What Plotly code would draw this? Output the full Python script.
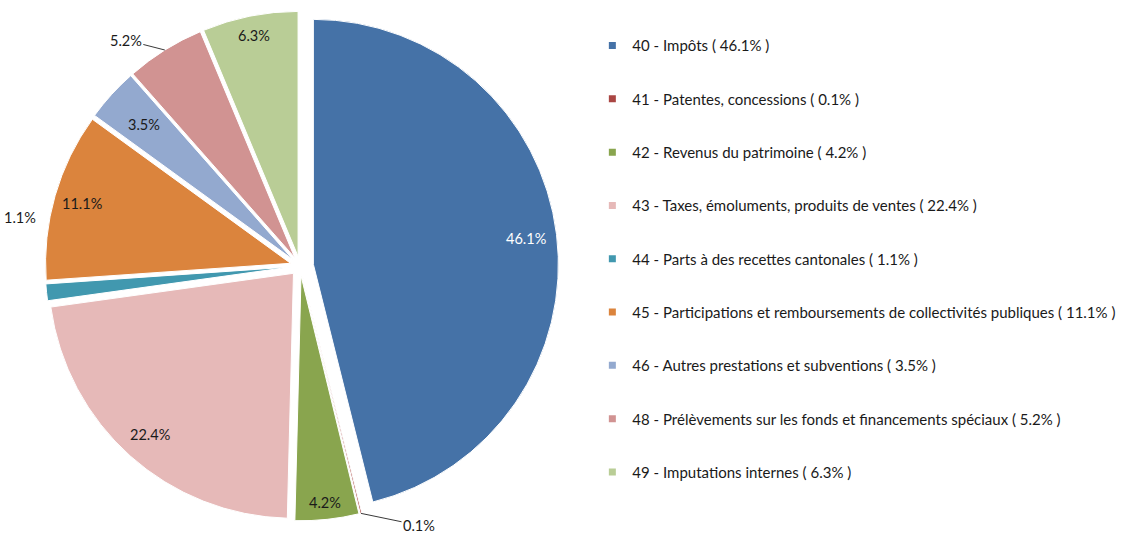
import math
import plotly.graph_objects as go

codes = ["40", "41", "42", "43", "44", "45", "46", "48", "49"]
names = ["Impôts", "Patentes, concessions", "Revenus du patrimoine",
         "Taxes, émoluments, produits de ventes", "Parts à des recettes cantonales",
         "Participations et remboursements de collectivités publiques",
         "Autres prestations et subventions",
         "Prélèvements sur les fonds et financements spéciaux",
         "Imputations internes"]
values = [46.1, 0.1, 4.2, 22.4, 1.1, 11.1, 3.5, 5.2, 6.3]
colors = ["#4572A7", "#AA4643", "#89A54E", "#E6B9B8", "#4198AF",
          "#DB843D", "#93A9CF", "#D19392", "#B9CD96"]

# styling / layout (not data)
W, H = 1127, 533
CX, CY, R = 300.0, 266.0, 245.0          # pie centre & radius in px
pulls = [0.055, 0.04, 0.04, 0.04, 0.04, 0.04, 0.04, 0.04, 0.04]
label_style = ["in", "leader", "in", "in", "side", "in", "in", "leader", "in"]
label_radius = [0.875, None, 0.93, 0.88, None, 0.885, 0.82, None, 0.92]
label_offset = [None, (58, 12), None, None, (-27, -75), None, None, (-39, -10), None]
textcol = ["white"] + ["#1a1a1a"] * 8
FONT = "Lato"

maxpull = max(pulls)
half = R * (1 + maxpull)
dom_x = [(CX - half) / W, (CX + half) / W]
dom_y = [1 - (CY + half) / H, 1 - (CY - half) / H]

fig = go.Figure()
fig.add_trace(go.Pie(
    labels=[f"{c} - {n}" for c, n in zip(codes, names)],
    values=values,
    sort=False,
    direction="clockwise",
    rotation=0,
    pull=pulls,
    marker=dict(colors=colors, line=dict(color="white", width=1)),
    textinfo="none",
    showlegend=False,
    automargin=False,
    hoverinfo="label+percent",
    domain=dict(x=dom_x, y=dom_y),
))

# data labels placed from the slice angles
total = sum(values)
cum = 0.0
annotations = []
for i, v in enumerate(values):
    mid = (cum + v / 2) / total * 2 * math.pi
    cum += v
    sx, sy = math.sin(mid), -math.cos(mid)
    pcx = CX + pulls[i] * R * sx
    pcy = CY + pulls[i] * R * sy
    txt = f"{v / total * 100:.1f}%"
    font = dict(family=FONT, size=14.5, color=textcol[i])
    if label_style[i] == "in":
        lr = label_radius[i] * R
        px, py = pcx + lr * sx, pcy + lr * sy
        annotations.append(dict(x=px / W, y=1 - py / H, xref="paper", yref="paper",
                                xanchor="center", yanchor="middle",
                                text=txt, showarrow=False, font=font))
    else:
        ex, ey = pcx + R * sx, pcy + R * sy
        ox, oy = label_offset[i]
        if label_style[i] == "leader":
            annotations.append(dict(x=ex / W, y=1 - ey / H, xref="paper", yref="paper",
                                    text=txt, showarrow=True, ax=ox, ay=oy,
                                    arrowhead=0, arrowwidth=0.9, arrowcolor="#222",
                                    standoff=0, startstandoff=0, font=font))
        else:
            annotations.append(dict(x=ex / W, y=1 - ey / H, xref="paper", yref="paper",
                                    xanchor="center", yanchor="middle",
                                    text=txt, showarrow=False, xshift=ox, yshift=-oy,
                                    font=font))

for c, n, v, col in zip(codes, names, values, colors):
    fig.add_trace(go.Scatter(
        x=[None], y=[None], mode="markers",
        marker=dict(symbol="square", size=7, color=col),
        name=f"{c} - {n} ( {v:.1f}% )",
        legendgroup=c, showlegend=True, hoverinfo="skip",
    ))

fig.update_layout(
    width=W, height=H,
    margin=dict(l=0, r=0, t=0, b=0, autoexpand=False),
    paper_bgcolor="white", plot_bgcolor="white",
    font=dict(family=FONT, size=15, color="black"),
    xaxis=dict(visible=False), yaxis=dict(visible=False),
    legend=dict(x=0.5256, y=0.945, xanchor="left", yanchor="top",
                tracegroupgap=30.8, itemsizing="trace",
                font=dict(family=FONT, size=15, color="#1a1a1a"),
                bgcolor="rgba(0,0,0,0)"),
    annotations=annotations,
)

fig.write_html("out.html", config={"displayModeBar": False},
               post_script="document.body.style.margin='0';")
